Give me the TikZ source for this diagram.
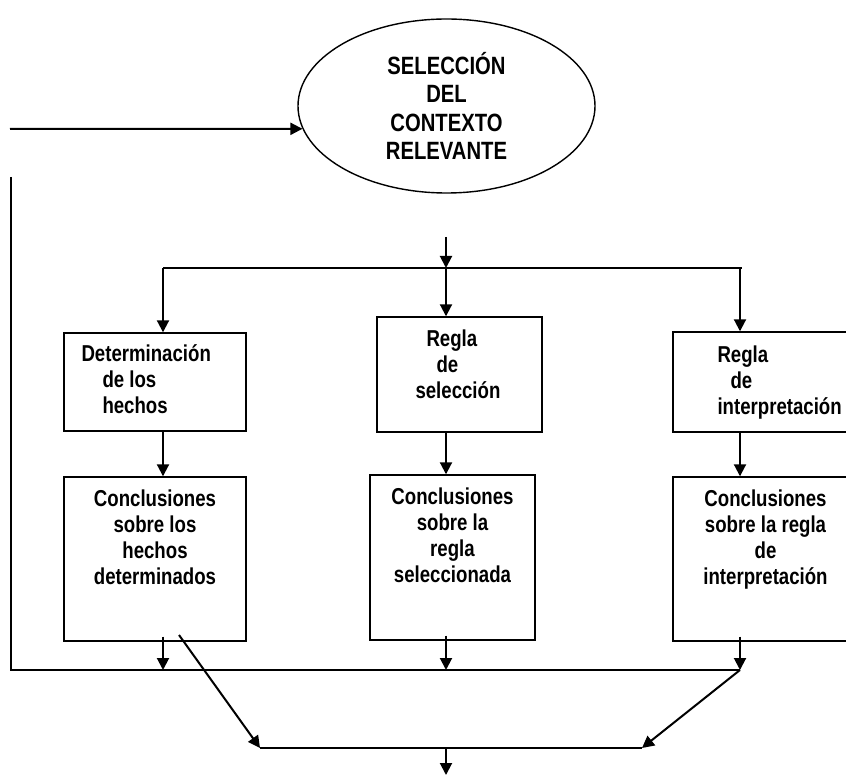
\documentclass[tikz,border=0pt]{standalone}
\usepackage{fontspec}
\setmainfont{Liberation Sans}[FakeStretch=0.81]
\usetikzlibrary{arrows.meta,shapes.geometric}
\tikzset{
  bx/.style={draw, line width=1.4pt, inner sep=0pt},
  ctx/.style={ellipse, draw, line width=1.4pt, inner sep=0pt, align=center, font=\fontsize{25}{28.5}\selectfont\bfseries},
  txt/.style={inner sep=0pt, align=left, anchor=north west, font=\fontsize{23}{26}\selectfont\bfseries},
  ctr/.style={inner sep=0pt, align=center, anchor=north, font=\fontsize{23}{26}\selectfont\bfseries},
  arr/.style={-{Triangle[length=12pt, width=12pt]}, line width=2pt},
  ln/.style={line width=2pt},
}
\begin{document}
\begin{tikzpicture}[x=1pt, y=-1pt]
  \useasboundingbox (0,0) rectangle (846,775);
  % context ellipse
  \node[ctx, minimum width=297pt, minimum height=174pt] (sel) at (446.5,106) {SELECCIÓN\\DEL\\CONTEXTO\\RELEVANTE};
  % upper boxes
  \node[bx, minimum width=182pt, minimum height=98pt] (det) at (155,382) {};
  \node[bx, minimum width=165pt, minimum height=115pt] (rsel) at (459.5,374.5) {};
  \node[bx, minimum width=179pt, minimum height=100pt] (rint) at (762.5,382) {};
  \node[txt] (detT) at ([xshift=18pt, yshift=-12pt]det.north west) {Determinación\\\hspace*{21pt}de los\\\hspace*{21pt}hechos};
  \node[txt] (rselT) at ([xshift=39pt, yshift=-13pt]rsel.north west) {\hspace*{11pt}Regla\\\hspace*{21pt}de\\selección};
  \node[txt] (rintT) at ([xshift=45pt, yshift=-14pt]rint.north west) {Regla\\\hspace*{13pt}de\\interpretación};
  % lower boxes
  \node[bx, minimum width=182pt, minimum height=164pt] (cdet) at (155,559) {};
  \node[bx, minimum width=165pt, minimum height=165pt] (csel) at (452.5,557.5) {};
  \node[bx, minimum width=179pt, minimum height=164pt] (cint) at (762.5,559) {};
  \node[ctr] (cdetT) at ([yshift=-13pt]cdet.north) {Conclusiones\\sobre los\\hechos\\determinados};
  \node[ctr] (cselT) at ([yshift=-13pt]csel.north) {Conclusiones\\sobre la\\regla\\seleccionada};
  \node[ctr] (cintT) at ([xshift=3pt, yshift=-13pt]cint.north) {Conclusiones\\sobre la regla\\de\\interpretación};
  % junction points
  \coordinate (inA) at (10,129);
  \coordinate (fbA) at (11,177);
  \coordinate (fbB) at (11,670);
  \coordinate (top) at (446,237);
  \coordinate (jL) at (163,268);
  \coordinate (jM) at (446,268);
  \coordinate (jR) at (740,268);
  \coordinate (bL) at (163,670);
  \coordinate (bM) at (446,670);
  \coordinate (bR) at (740,670);
  \coordinate (dgA) at (179,635);
  \coordinate (mL) at (260,748);
  \coordinate (mM) at (446,748);
  \coordinate (mR) at (642,748);
  \coordinate (out) at (446,775);
  % connectors
  \draw[arr] (inA) -- (sel.189);
  \draw[ln] (fbA) -- (fbB) -- (bR);
  \draw[arr] (top) -- (jM);
  \draw[ln] (jL) -- ([xshift=2pt]jR);
  \foreach \j/\b in {jL/det, jM/rsel, jR/rint}
    \draw[arr] (\j) -- (\j |- \b.north);
  \foreach \j/\a/\b in {jL/det/cdet, jM/rsel/csel, jR/rint/cint}
    \draw[arr] (\j |- \a.south) -- (\j |- \b.north);
  \foreach \j/\a/\b in {jL/cdet/bL, jM/csel/bM, jR/cint/bR}
    \draw[arr] ([yshift=5pt]\j |- \a.south) -- (\b);
  \draw[arr] (dgA) -- (mL);
  \draw[ln] (mL) -- (mR);
  \draw[arr] (bR) -- (mR);
  \draw[arr] (mM) -- (out);
\end{tikzpicture}
\end{document}
